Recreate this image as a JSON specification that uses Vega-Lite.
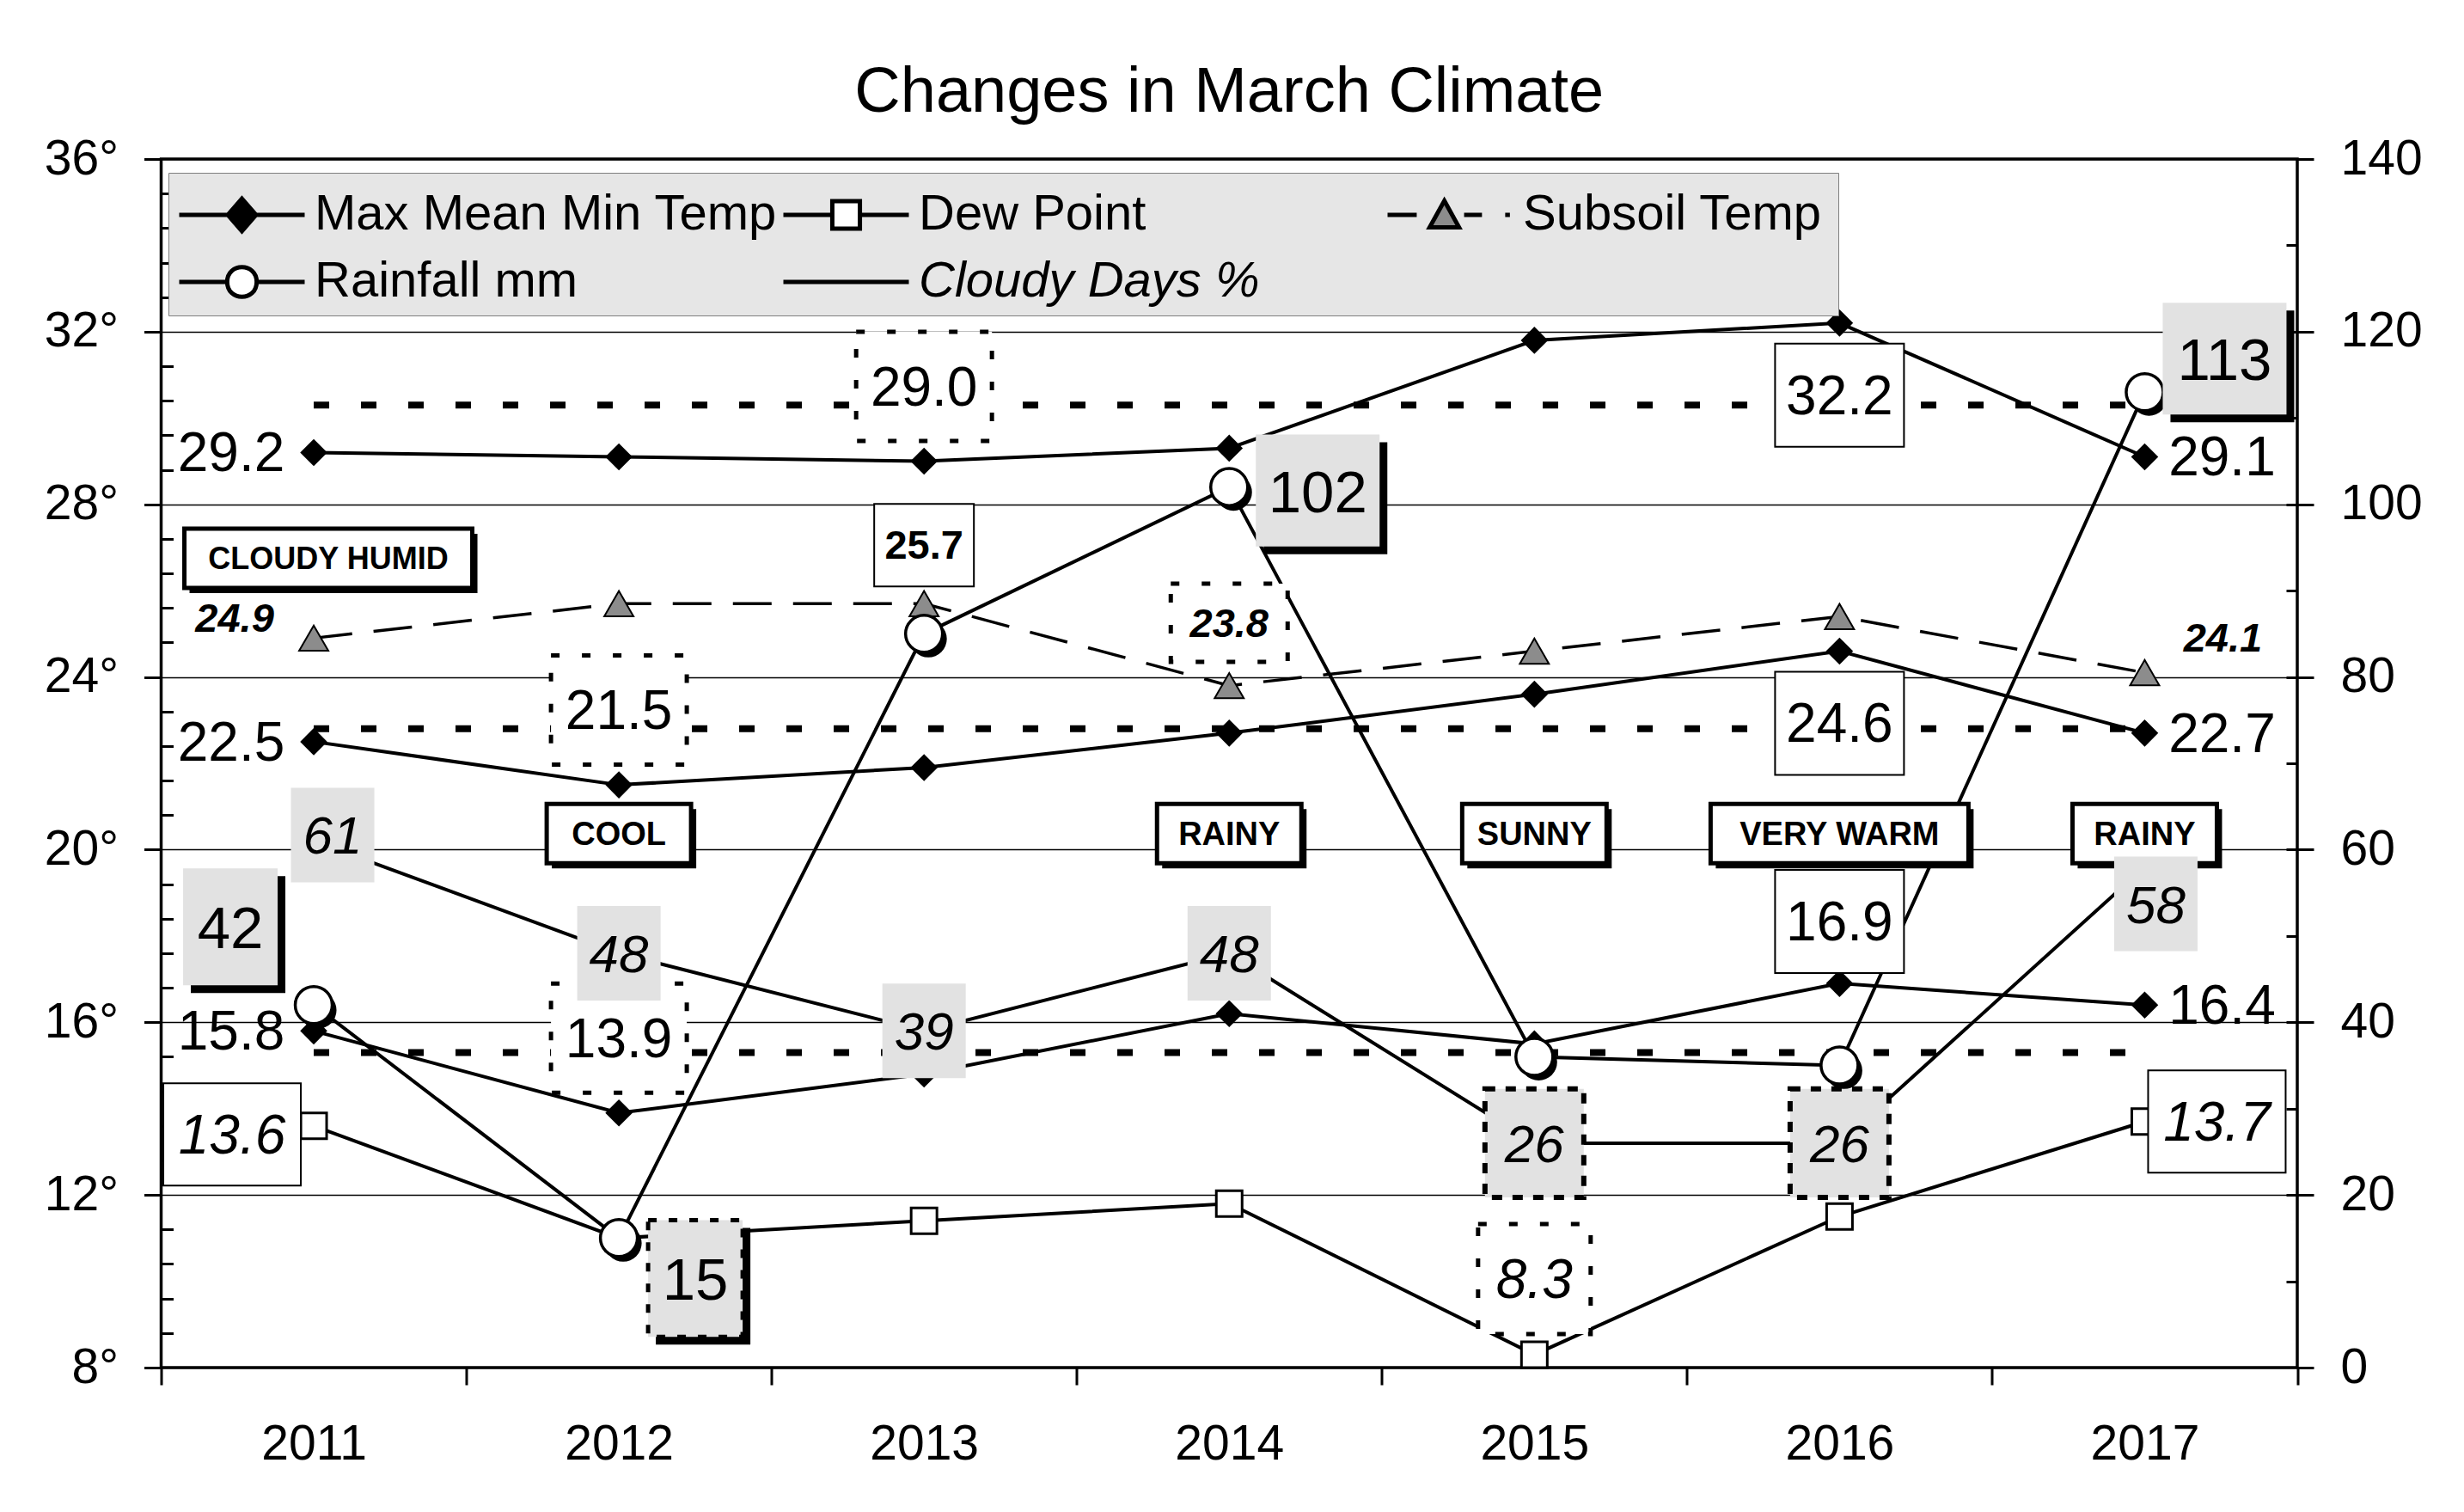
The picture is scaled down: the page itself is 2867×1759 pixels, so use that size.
{
  "$schema": "https://vega.github.io/schema/vega-lite/v6.json",
  "width": 2485.5,
  "height": 1406,
  "autosize": {"type": "none"},
  "padding": {"left": 187.5, "top": 185, "right": 194, "bottom": 168},
  "background": "white",
  "title": {"text": "Changes in March Climate", "font": "Liberation Sans", "fontSize": 74, "fontWeight": "normal", "color": "black", "anchor": "middle", "frame": "group", "baseline": "alphabetic", "offset": -48},
  "config": {
    "font": "Liberation Sans",
    "view": {"stroke": "black", "strokeWidth": 3.5},
    "axis": {"labelColor": "black", "tickColor": "black", "labelFont": "Liberation Sans", "domain": false},
    "axisX": {"tickBand": "extent", "tickSize": 20, "tickWidth": 3, "labelFontSize": 57, "labelPadding": 41, "grid": false, "labelAngle": 0}
  },
  "datasets": {
    "series": [
      {"year": "2011", "series": "Max Mean Min Temp", "line": "Max", "value": 29.2},
      {"year": "2012", "series": "Max Mean Min Temp", "line": "Max", "value": 29.1},
      {"year": "2013", "series": "Max Mean Min Temp", "line": "Max", "value": 29.0},
      {"year": "2014", "series": "Max Mean Min Temp", "line": "Max", "value": 29.3},
      {"year": "2015", "series": "Max Mean Min Temp", "line": "Max", "value": 31.8},
      {"year": "2016", "series": "Max Mean Min Temp", "line": "Max", "value": 32.2},
      {"year": "2017", "series": "Max Mean Min Temp", "line": "Max", "value": 29.1},
      {"year": "2011", "series": "Max Mean Min Temp", "line": "Mean", "value": 22.5},
      {"year": "2012", "series": "Max Mean Min Temp", "line": "Mean", "value": 21.5},
      {"year": "2013", "series": "Max Mean Min Temp", "line": "Mean", "value": 21.9},
      {"year": "2014", "series": "Max Mean Min Temp", "line": "Mean", "value": 22.7},
      {"year": "2015", "series": "Max Mean Min Temp", "line": "Mean", "value": 23.6},
      {"year": "2016", "series": "Max Mean Min Temp", "line": "Mean", "value": 24.6},
      {"year": "2017", "series": "Max Mean Min Temp", "line": "Mean", "value": 22.7},
      {"year": "2011", "series": "Max Mean Min Temp", "line": "Min", "value": 15.8},
      {"year": "2012", "series": "Max Mean Min Temp", "line": "Min", "value": 13.9},
      {"year": "2013", "series": "Max Mean Min Temp", "line": "Min", "value": 14.8},
      {"year": "2014", "series": "Max Mean Min Temp", "line": "Min", "value": 16.2},
      {"year": "2015", "series": "Max Mean Min Temp", "line": "Min", "value": 15.5},
      {"year": "2016", "series": "Max Mean Min Temp", "line": "Min", "value": 16.9},
      {"year": "2017", "series": "Max Mean Min Temp", "line": "Min", "value": 16.4},
      {"year": "2011", "series": "Dew Point", "line": "Dew", "value": 13.6},
      {"year": "2012", "series": "Dew Point", "line": "Dew", "value": 11.0},
      {"year": "2013", "series": "Dew Point", "line": "Dew", "value": 11.4},
      {"year": "2014", "series": "Dew Point", "line": "Dew", "value": 11.8},
      {"year": "2015", "series": "Dew Point", "line": "Dew", "value": 8.3},
      {"year": "2016", "series": "Dew Point", "line": "Dew", "value": 11.5},
      {"year": "2017", "series": "Dew Point", "line": "Dew", "value": 13.7},
      {"year": "2011", "series": "Subsoil Temp", "line": "Subsoil", "value": 24.9},
      {"year": "2012", "series": "Subsoil Temp", "line": "Subsoil", "value": 25.7},
      {"year": "2013", "series": "Subsoil Temp", "line": "Subsoil", "value": 25.7},
      {"year": "2014", "series": "Subsoil Temp", "line": "Subsoil", "value": 23.8},
      {"year": "2015", "series": "Subsoil Temp", "line": "Subsoil", "value": 24.6},
      {"year": "2016", "series": "Subsoil Temp", "line": "Subsoil", "value": 25.4},
      {"year": "2017", "series": "Subsoil Temp", "line": "Subsoil", "value": 24.1}
    ],
    "rightSeries": [
      {"year": "2011", "series": "Rainfall mm", "value": 42},
      {"year": "2012", "series": "Rainfall mm", "value": 15},
      {"year": "2013", "series": "Rainfall mm", "value": 85},
      {"year": "2014", "series": "Rainfall mm", "value": 102},
      {"year": "2015", "series": "Rainfall mm", "value": 36},
      {"year": "2016", "series": "Rainfall mm", "value": 35},
      {"year": "2017", "series": "Rainfall mm", "value": 113},
      {"year": "2011", "series": "Cloudy Days %", "value": 61},
      {"year": "2012", "series": "Cloudy Days %", "value": 48},
      {"year": "2013", "series": "Cloudy Days %", "value": 39},
      {"year": "2014", "series": "Cloudy Days %", "value": 48},
      {"year": "2015", "series": "Cloudy Days %", "value": 26},
      {"year": "2016", "series": "Cloudy Days %", "value": 26},
      {"year": "2017", "series": "Cloudy Days %", "value": 58}
    ],
    "averages": [
      {"year": "2011", "line": "Max average", "value": 30.3},
      {"year": "2017", "line": "Max average", "value": 30.3},
      {"year": "2011", "line": "Mean average", "value": 22.8},
      {"year": "2017", "line": "Mean average", "value": 22.8},
      {"year": "2011", "line": "Min average", "value": 15.3},
      {"year": "2017", "line": "Min average", "value": 15.3}
    ],
    "tempPlain": [
      {"year": "2011", "value": 29.2, "text": "29.2", "side": "left"},
      {"year": "2011", "value": 22.5, "text": "22.5", "side": "left"},
      {"year": "2011", "value": 15.8, "text": "15.8", "side": "left"},
      {"year": "2017", "value": 29.1, "text": "29.1", "side": "right"},
      {"year": "2017", "value": 22.7, "text": "22.7", "side": "right"},
      {"year": "2017", "value": 16.4, "text": "16.4", "side": "right"}
    ],
    "tempDotted": [
      {"year": "2013", "value": 29.0, "text": "29.0"},
      {"year": "2012", "value": 21.5, "text": "21.5"},
      {"year": "2012", "value": 13.9, "text": "13.9"}
    ],
    "tempSolid": [
      {"year": "2016", "value": 32.2, "text": "32.2", "side": "below"},
      {"year": "2016", "value": 24.6, "text": "24.6", "side": "below"},
      {"year": "2016", "value": 16.9, "text": "16.9", "side": "above"}
    ],
    "dewSolid": [
      {"year": "2011", "value": 13.6, "text": "13.6", "side": "left"},
      {"year": "2017", "value": 13.7, "text": "13.7", "side": "right"}
    ],
    "dewDotted": [
      {"year": "2015", "value": 8.3, "text": "8.3"}
    ],
    "soilPlain": [
      {"year": "2011", "value": 24.9, "text": "24.9", "side": "left"},
      {"year": "2017", "value": 24.1, "text": "24.1", "side": "right"}
    ],
    "soilDotted": [
      {"year": "2014", "value": 23.8, "text": "23.8"}
    ],
    "soilSolid": [
      {"year": "2013", "value": 25.7, "text": "25.7"}
    ],
    "rainLabels": [
      {"year": "2011", "value": 42, "text": "42", "side": "upleft"},
      {"year": "2012", "value": 15, "text": "15", "side": "downright"},
      {"year": "2014", "value": 102, "text": "102", "side": "right"},
      {"year": "2017", "value": 113, "text": "113", "side": "upright"}
    ],
    "cloudyLabels": [
      {"year": "2011", "value": 61, "text": "61", "side": "upright"},
      {"year": "2012", "value": 48, "text": "48", "side": "center"},
      {"year": "2013", "value": 39, "text": "39", "side": "center"},
      {"year": "2014", "value": 48, "text": "48", "side": "center"},
      {"year": "2017", "value": 58, "text": "58", "side": "downright"}
    ],
    "cloudyDotted": [
      {"year": "2015", "value": 26, "text": "26"},
      {"year": "2016", "value": 26, "text": "26"}
    ],
    "notes": [
      {"year": "2012", "text": "COOL"},
      {"year": "2014", "text": "RAINY"},
      {"year": "2015", "text": "SUNNY"},
      {"year": "2016", "text": "VERY WARM"},
      {"year": "2017", "text": "RAINY"}
    ],
    "notesTop": [
      {"year": "2011", "text": "CLOUDY HUMID"}
    ]
  },
  "encoding": {
    "x": {"field": "year", "type": "ordinal", "scale": {"type": "band", "paddingInner": 0, "paddingOuter": 0}, "title": null}
  },
  "layer": [
    {
      "data": {"name": "rightSeries"},
      "mark": {"type": "line", "strokeWidth": 4},
      "encoding": {
        "y": {"field": "value", "type": "quantitative", "scale": {"domain": [0, 140], "nice": false, "zero": false}, "axis": null},
        "stroke": {"field": "series", "type": "nominal",
          "scale": {"domain": ["Max Mean Min Temp", "Dew Point", "Subsoil Temp", "Rainfall mm", "Cloudy Days %"], "range": ["black", "black", "black", "black", "black"]},
          "legend": {
            "title": "\u00a0\u00a0\u00a0\u00a0\u00a0\u00a0\u00a0\u00a0\u00a0\u00a0\u00a0", "titleOrient": "right", "titleFontSize": 58, "titleFont": "Liberation Sans", "titlePadding": 9,
            "orient": "none", "legendX": 8.5, "legendY": 16, "direction": "horizontal", "columns": 3, "gridAlign": "all",
            "columnPadding": -4, "rowPadding": 10, "padding": 10, "fillColor": "#e6e6e6", "strokeColor": "#7f7f7f",
            "labelFont": "Liberation Sans", "labelFontSize": 58, "labelColor": "black", "labelLimit": 0, "labelOffset": 82,
            "symbolSize": 5329, "symbolStrokeWidth": 5, "symbolStrokeColor": "black",
            "encode": {
              "symbols": {"update": {
                "shape": {"signal": "datum.value === 'Max Mean Min Temp' ? 'M-1,0H3M1,-0.52L1.45,0L1,0.52L0.55,0Z' : datum.value === 'Dew Point' ? 'M-1,0H0.56M1.44,0H3M0.56,-0.44H1.44V0.44H0.56Z' : datum.value === 'Subsoil Temp' ? 'M-1,0H-0.07M1.44,0H2.01M2.75,0H2.9M0.81,-0.45L1.28,0.4L0.34,0.4Z' : datum.value === 'Rainfall mm' ? 'M-1,0H0.53M1.47,0H3M0.53,0C0.53,-0.63,1.47,-0.63,1.47,0C1.47,0.63,0.53,0.63,0.53,0Z' : 'M-1,0H3'"},
                "fill": {"signal": "datum.value === 'Max Mean Min Temp' ? 'black' : datum.value === 'Subsoil Temp' ? '#8c8c8c' : 'white'"},
                "fillOpacity": {"value": 1},
                "stroke": {"value": "black"},
                "strokeWidth": {"value": 5},
                "opacity": {"value": 1}
              }},
              "labels": {"update": {"fontStyle": {"signal": "datum.value === 'Cloudy Days %' ? 'italic' : 'normal'"}}}
            }
          }
        }
      }
    },
    {
      "encoding": {"y": {"field": "value", "type": "quantitative", "scale": {"domain": [8, 36], "nice": false, "zero": false},
        "axis": {"orient": "left", "values": [8, 12, 16, 20, 24, 28, 32, 36], "labelExpr": "datum.value + '°'", "tickSize": 20, "tickWidth": 3, "labelFontSize": 57, "labelPadding": 30, "grid": true, "gridColor": "#000000", "gridWidth": 1.5, "gridOpacity": 1, "domain": false, "title": null}}},
      "layer": [
        {
          "data": {"name": "averages"},
          "mark": {"type": "line", "stroke": "black", "strokeWidth": 8, "strokeDash": [18, 37]},
          "encoding": {"detail": {"field": "line"}}
        },
        {
          "data": {"name": "series"},
          "transform": [{"filter": "datum.series !== 'Subsoil Temp'"}],
          "mark": {"type": "line", "strokeWidth": 4},
          "encoding": {
            "detail": {"field": "line"},
            "stroke": {"field": "series", "type": "nominal", "scale": {"domain": ["Max Mean Min Temp", "Dew Point", "Subsoil Temp", "Rainfall mm", "Cloudy Days %"], "range": ["black", "black", "black", "black", "black"]}, "legend": null}
          }
        },
        {
          "data": {"name": "series"},
          "transform": [{"filter": "datum.series === 'Subsoil Temp'"}],
          "mark": {"type": "line", "strokeWidth": 3.5, "strokeDash": [45, 25]},
          "encoding": {
            "stroke": {"field": "series", "type": "nominal", "scale": {"domain": ["Max Mean Min Temp", "Dew Point", "Subsoil Temp", "Rainfall mm", "Cloudy Days %"], "range": ["black", "black", "black", "black", "black"]}, "legend": null}
          }
        },
        {
          "data": {"name": "series"},
          "transform": [{"filter": "datum.series === 'Max Mean Min Temp'"}],
          "mark": {"type": "point", "shape": "diamond", "size": 1000, "filled": true, "fill": "black", "strokeWidth": 0, "opacity": 1}
        },
        {
          "data": {"name": "series"},
          "transform": [{"filter": "datum.series === 'Dew Point'"}],
          "mark": {"type": "point", "shape": "square", "size": 900, "filled": true, "fill": "white", "stroke": "black", "strokeWidth": 3, "opacity": 1}
        },
        {
          "data": {"name": "series"},
          "transform": [{"filter": "datum.series === 'Subsoil Temp'"}],
          "mark": {"type": "point", "shape": "triangle-up", "size": 1150, "filled": true, "fill": "#8c8c8c", "stroke": "black", "strokeWidth": 2, "opacity": 1}
        },
        {
          "data": {"name": "tempDotted"},
          "mark": {"type": "point", "shape": "M-1,-0.804H1V0.804H-1Z", "size": 24964, "filled": true, "fill": "white", "stroke": "black", "strokeWidth": 5, "strokeDash": [10, 26], "opacity": 1, "yOffset": -87}
        },
        {
          "data": {"name": "tempSolid"},
          "mark": {"type": "point", "shape": "M-1,-0.8H1V0.8H-1Z", "size": 22500, "filled": true, "fill": "white", "stroke": "black", "strokeWidth": 2, "opacity": 1, "yOffset": {"expr": "datum.side === 'below' ? 84 : -72"}}
        },
        {
          "data": {"name": "dewSolid"},
          "mark": {"type": "point", "shape": "M-1,-0.744H1V0.744H-1Z", "size": 25600, "filled": true, "fill": "white", "stroke": "black", "strokeWidth": 2, "opacity": 1, "xOffset": {"expr": "datum.side === 'left' ? -95 : 84"}, "yOffset": {"expr": "datum.side === 'left' ? 10 : 0"}}
        },
        {
          "data": {"name": "dewDotted"},
          "mark": {"type": "point", "shape": "M-1,-0.977H1V0.977H-1Z", "size": 17161, "filled": true, "fill": "white", "stroke": "black", "strokeWidth": 5, "strokeDash": [10, 26], "opacity": 1, "yOffset": -88}
        },
        {
          "data": {"name": "soilDotted"},
          "mark": {"type": "point", "shape": "M-1,-0.669H1V0.669H-1Z", "size": 18496, "filled": true, "fill": "white", "stroke": "black", "strokeWidth": 5, "strokeDash": [10, 26], "opacity": 1, "yOffset": -73}
        },
        {
          "data": {"name": "soilSolid"},
          "mark": {"type": "point", "shape": "M-1,-0.828H1V0.828H-1Z", "size": 13456, "filled": true, "fill": "white", "stroke": "black", "strokeWidth": 2, "opacity": 1, "yOffset": -68}
        },
        {
          "data": {"name": "tempPlain"},
          "mark": {"type": "text", "font": "Liberation Sans", "fontSize": 64, "color": "black", "align": "center", "baseline": "middle", "xOffset": {"expr": "datum.side === 'left' ? -96 : 90"}, "yOffset": 3},
          "encoding": {"text": {"field": "text"}}
        },
        {
          "data": {"name": "tempDotted"},
          "mark": {"type": "text", "font": "Liberation Sans", "fontSize": 64, "color": "black", "align": "center", "baseline": "middle", "yOffset": -84},
          "encoding": {"text": {"field": "text"}}
        },
        {
          "data": {"name": "tempSolid"},
          "mark": {"type": "text", "font": "Liberation Sans", "fontSize": 64, "color": "black", "align": "center", "baseline": "middle", "yOffset": {"expr": "datum.side === 'below' ? 87 : -69"}},
          "encoding": {"text": {"field": "text"}}
        },
        {
          "data": {"name": "dewSolid"},
          "mark": {"type": "text", "font": "Liberation Sans", "fontSize": 64, "fontStyle": "italic", "color": "black", "align": "center", "baseline": "middle", "xOffset": {"expr": "datum.side === 'left' ? -95 : 84"}, "yOffset": {"expr": "datum.side === 'left' ? 13 : 3"}},
          "encoding": {"text": {"field": "text"}}
        },
        {
          "data": {"name": "dewDotted"},
          "mark": {"type": "text", "font": "Liberation Sans", "fontSize": 64, "fontStyle": "italic", "color": "black", "align": "center", "baseline": "middle", "yOffset": -85},
          "encoding": {"text": {"field": "text"}}
        },
        {
          "data": {"name": "soilPlain"},
          "mark": {"type": "text", "font": "Liberation Sans", "fontSize": 47, "fontStyle": "italic", "fontWeight": "bold", "color": "black", "align": "center", "baseline": "middle", "xOffset": {"expr": "datum.side === 'left' ? -92 : 91"}, "yOffset": {"expr": "datum.side === 'left' ? -21 : -39"}},
          "encoding": {"text": {"field": "text"}}
        },
        {
          "data": {"name": "soilDotted"},
          "mark": {"type": "text", "font": "Liberation Sans", "fontSize": 47, "fontStyle": "italic", "fontWeight": "bold", "color": "black", "align": "center", "baseline": "middle", "yOffset": -71},
          "encoding": {"text": {"field": "text"}}
        },
        {
          "data": {"name": "soilSolid"},
          "mark": {"type": "text", "font": "Liberation Sans", "fontSize": 47, "fontWeight": "bold", "color": "black", "align": "center", "baseline": "middle", "yOffset": -66},
          "encoding": {"text": {"field": "text"}}
        }
      ]
    },
    {
      "layer": [
        {
          "data": {"name": "notes"},
          "transform": [{"filter": "datum.text !== 'VERY WARM'"}],
          "mark": {"type": "point", "shape": "M-1,-0.411H1V0.411H-1Z", "size": 28224, "filled": true, "fill": "black", "strokeWidth": 0, "opacity": 1, "xOffset": 6, "yOffset": 6},
          "encoding": {"y": {"datum": 20.37, "type": "quantitative", "scale": {"domain": [8, 36], "nice": false, "zero": false}, "axis": null}}
        },
        {
          "data": {"name": "notes"},
          "transform": [{"filter": "datum.text !== 'VERY WARM'"}],
          "mark": {"type": "point", "shape": "M-1,-0.411H1V0.411H-1Z", "size": 28224, "filled": true, "fill": "white", "stroke": "black", "strokeWidth": 5, "opacity": 1},
          "encoding": {"y": {"datum": 20.37, "type": "quantitative", "axis": null}}
        },
        {
          "data": {"name": "notes"},
          "transform": [{"filter": "datum.text === 'VERY WARM'"}],
          "mark": {"type": "point", "shape": "M-1,-0.23H1V0.23H-1Z", "size": 90000, "filled": true, "fill": "black", "strokeWidth": 0, "opacity": 1, "xOffset": 6, "yOffset": 6},
          "encoding": {"y": {"datum": 20.37, "type": "quantitative", "axis": null}}
        },
        {
          "data": {"name": "notes"},
          "transform": [{"filter": "datum.text === 'VERY WARM'"}],
          "mark": {"type": "point", "shape": "M-1,-0.23H1V0.23H-1Z", "size": 90000, "filled": true, "fill": "white", "stroke": "black", "strokeWidth": 5, "opacity": 1},
          "encoding": {"y": {"datum": 20.37, "type": "quantitative", "axis": null}}
        },
        {
          "data": {"name": "notesTop"},
          "mark": {"type": "point", "shape": "M-1,-0.206H1V0.206H-1Z", "size": 112225, "filled": true, "fill": "black", "strokeWidth": 0, "opacity": 1, "xOffset": 23, "yOffset": 6},
          "encoding": {"y": {"datum": 26.75, "type": "quantitative", "axis": null}}
        },
        {
          "data": {"name": "notesTop"},
          "mark": {"type": "point", "shape": "M-1,-0.206H1V0.206H-1Z", "size": 112225, "filled": true, "fill": "white", "stroke": "black", "strokeWidth": 5, "opacity": 1, "xOffset": 17},
          "encoding": {"y": {"datum": 26.75, "type": "quantitative", "axis": null}}
        },
        {
          "data": {"name": "notes"},
          "mark": {"type": "text", "font": "Liberation Sans", "fontSize": 38, "fontWeight": "bold", "color": "black", "align": "center", "baseline": "middle", "yOffset": 2},
          "encoding": {"y": {"datum": 20.37, "type": "quantitative", "axis": null}, "text": {"field": "text"}}
        },
        {
          "data": {"name": "notesTop"},
          "mark": {"type": "text", "font": "Liberation Sans", "fontSize": 36, "fontWeight": "bold", "color": "black", "align": "center", "baseline": "middle", "xOffset": 17, "yOffset": 2},
          "encoding": {"y": {"datum": 26.75, "type": "quantitative", "axis": null}, "text": {"field": "text"}}
        }
      ]
    },
    {
      "encoding": {"y": {"field": "value", "type": "quantitative", "scale": {"domain": [0, 140], "nice": false, "zero": false},
        "axis": {"orient": "right", "values": [0, 20, 40, 60, 80, 100, 120, 140], "tickSize": 19, "tickWidth": 3, "labelFontSize": 57, "labelPadding": 31, "grid": false, "domain": false, "title": null}}},
      "layer": [
        {
          "data": {"name": "rightSeries"},
          "transform": [{"filter": "datum.series === 'Rainfall mm'"}],
          "mark": {"type": "point", "shape": "circle", "size": 1850, "filled": true, "fill": "black", "strokeWidth": 0, "opacity": 1, "xOffset": 5, "yOffset": 6}
        },
        {
          "data": {"name": "rightSeries"},
          "transform": [{"filter": "datum.series === 'Rainfall mm'"}],
          "mark": {"type": "point", "shape": "circle", "size": 1850, "filled": true, "fill": "white", "stroke": "black", "strokeWidth": 3.5, "opacity": 1}
        },
        {
          "data": {"name": "rainLabels"},
          "transform": [{"filter": "length(datum.text) < 3"}],
          "mark": {"type": "point", "shape": "M-1,-1.236H1V1.236H-1Z", "size": 12100, "filled": true, "fill": "black", "strokeWidth": 0, "opacity": 1,
            "xOffset": {"expr": "(datum.side === 'upleft' ? -97 : datum.side === 'downright' ? 89 : datum.side === 'right' ? 103 : 93) + 9"},
            "yOffset": {"expr": "(datum.side === 'upleft' ? -91 : datum.side === 'downright' ? 47 : datum.side === 'right' ? 4 : -39) + 9"}}
        },
        {
          "data": {"name": "rainLabels"},
          "transform": [{"filter": "length(datum.text) >= 3"}],
          "mark": {"type": "point", "shape": "M-1,-0.903H1V0.903H-1Z", "size": 20736, "filled": true, "fill": "black", "strokeWidth": 0, "opacity": 1,
            "xOffset": {"expr": "(datum.side === 'upleft' ? -97 : datum.side === 'downright' ? 89 : datum.side === 'right' ? 103 : 93) + 9"},
            "yOffset": {"expr": "(datum.side === 'upleft' ? -91 : datum.side === 'downright' ? 47 : datum.side === 'right' ? 4 : -39) + 9"}}
        },
        {
          "data": {"name": "rainLabels"},
          "transform": [{"filter": "length(datum.text) < 3"}],
          "mark": {"type": "point", "shape": "M-1,-1.236H1V1.236H-1Z", "size": 12100, "filled": true, "fill": "#e2e2e2", "stroke": "black", "strokeDash": [10, 14], "opacity": 1,
            "strokeWidth": {"expr": "datum.side === 'downright' ? 5 : 0"},
            "xOffset": {"expr": "datum.side === 'upleft' ? -97 : datum.side === 'downright' ? 89 : datum.side === 'right' ? 103 : 93"},
            "yOffset": {"expr": "datum.side === 'upleft' ? -91 : datum.side === 'downright' ? 47 : datum.side === 'right' ? 4 : -39"}}
        },
        {
          "data": {"name": "rainLabels"},
          "transform": [{"filter": "length(datum.text) >= 3"}],
          "mark": {"type": "point", "shape": "M-1,-0.903H1V0.903H-1Z", "size": 20736, "filled": true, "fill": "#e2e2e2", "strokeWidth": 0, "opacity": 1,
            "xOffset": {"expr": "datum.side === 'upleft' ? -97 : datum.side === 'downright' ? 89 : datum.side === 'right' ? 103 : 93"},
            "yOffset": {"expr": "datum.side === 'upleft' ? -91 : datum.side === 'downright' ? 47 : datum.side === 'right' ? 4 : -39"}}
        },
        {
          "data": {"name": "rainLabels"},
          "mark": {"type": "text", "font": "Liberation Sans", "fontSize": 69, "color": "black", "align": "center", "baseline": "middle",
            "xOffset": {"expr": "datum.side === 'upleft' ? -97 : datum.side === 'downright' ? 89 : datum.side === 'right' ? 103 : 93"},
            "yOffset": {"expr": "(datum.side === 'upleft' ? -91 : datum.side === 'downright' ? 47 : datum.side === 'right' ? 4 : -39) + 4"}},
          "encoding": {"text": {"field": "text"}}
        },
        {
          "data": {"name": "cloudyLabels"},
          "mark": {"type": "point", "shape": "M-1,-1.134H1V1.134H-1Z", "size": 9409, "filled": true, "fill": "#e2e2e2", "strokeWidth": 0, "opacity": 1,
            "xOffset": {"expr": "datum.side === 'upright' ? 22 : datum.side === 'downright' ? 13 : 0"},
            "yOffset": {"expr": "datum.side === 'upright' ? -7 : datum.side === 'downright' ? 43 : 0"}}
        },
        {
          "data": {"name": "cloudyDotted"},
          "mark": {"type": "point", "shape": "M-1,-1.096H1V1.096H-1Z", "size": 13225, "filled": true, "fill": "#e2e2e2", "stroke": "black", "strokeWidth": 6, "strokeDash": [12, 12], "opacity": 1}
        },
        {
          "data": {"name": "cloudyLabels"},
          "mark": {"type": "text", "font": "Liberation Sans", "fontSize": 62, "fontStyle": "italic", "color": "black", "align": "center", "baseline": "middle",
            "xOffset": {"expr": "datum.side === 'upright' ? 22 : datum.side === 'downright' ? 13 : 0"},
            "yOffset": {"expr": "(datum.side === 'upright' ? -7 : datum.side === 'downright' ? 43 : 0) + 3"}},
          "encoding": {"text": {"field": "text"}}
        },
        {
          "data": {"name": "cloudyDotted"},
          "mark": {"type": "text", "font": "Liberation Sans", "fontSize": 62, "fontStyle": "italic", "color": "black", "align": "center", "baseline": "middle", "yOffset": 3},
          "encoding": {"text": {"field": "text"}}
        }
      ]
    },
    {
      "data": {"name": "series"},
      "mark": {"type": "point", "opacity": 0},
      "encoding": {"y": {"field": "value", "type": "quantitative", "scale": {"domain": [8, 36], "nice": false, "zero": false},
        "axis": {"orient": "left", "values": [8.8, 9.6, 10.4, 11.2, 12.8, 13.6, 14.4, 15.2, 16.8, 17.6, 18.4, 19.2, 20.8, 21.6, 22.4, 23.2, 24.8, 25.6, 26.4, 27.2, 28.8, 29.6, 30.4, 31.2, 32.8, 33.6, 34.4, 35.2], "tickSize": -14, "tickWidth": 3, "labels": false, "grid": false, "domain": false, "title": null}}}
    },
    {
      "data": {"name": "rightSeries"},
      "mark": {"type": "point", "opacity": 0},
      "encoding": {"y": {"field": "value", "type": "quantitative", "scale": {"domain": [0, 140], "nice": false, "zero": false},
        "axis": {"orient": "right", "values": [10, 20, 30, 40, 50, 60, 70, 80, 90, 100, 110, 120, 130], "tickSize": -13, "tickWidth": 3, "labels": false, "grid": false, "domain": false, "title": null}}}
    }
  ],
  "resolve": {"scale": {"y": "independent"}}
}
